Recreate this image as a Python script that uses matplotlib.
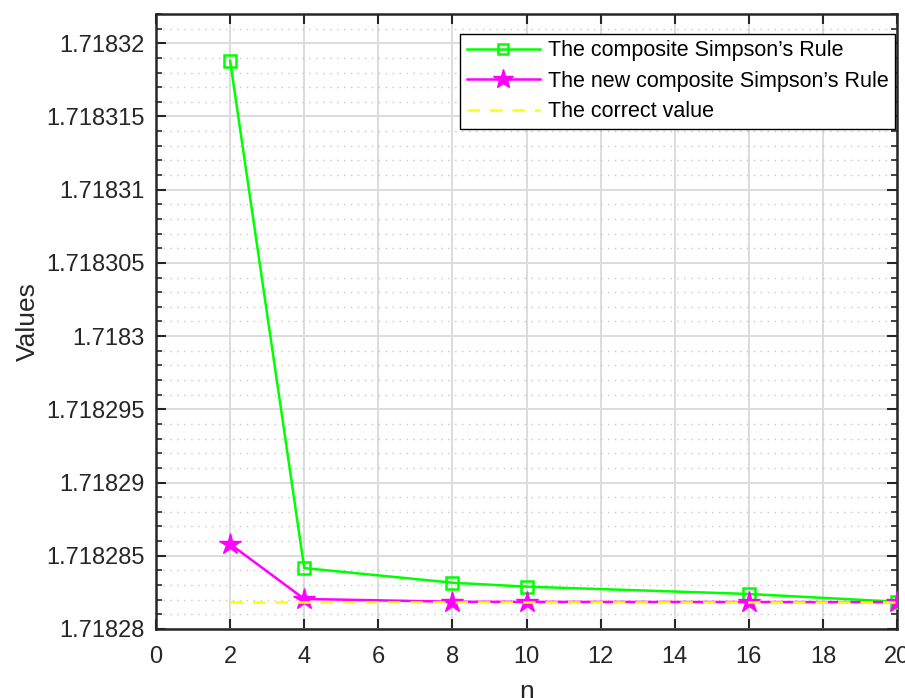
import matplotlib
matplotlib.use("Agg")
import matplotlib.pyplot as plt
from matplotlib.ticker import MultipleLocator, FuncFormatter

plt.rcParams['font.family'] = ['Liberation Sans', 'DejaVu Sans']

n = [2, 4, 8, 10, 16, 20]
simpson = [1.7183188, 1.71828416, 1.71828316, 1.71828289, 1.71828239, 1.71828186]
new_simpson = [1.7182858, 1.71828205, 1.71828186, 1.71828185, 1.71828184, 1.71828183]
correct = [1.71828183] * len(n)

fig = plt.figure(figsize=(9.05, 6.98), dpi=100)
ax = fig.add_axes([0.1724, 0.0989, 0.8188, 0.8811])

ax.plot(n, simpson, color='#00ff00', lw=1.8, marker='s', ms=8.5,
        mfc='none', mec='#00ff00', mew=1.8, label='The composite Simpson\u2019s Rule', zorder=3)
ax.plot(n, new_simpson, color='#ff00ff', lw=1.8, marker='*', ms=16,
        mfc='#ff00ff', mec='#ff00ff', label='The new composite Simpson\u2019s Rule', zorder=4)
ax.plot(n, correct, color='#ffff00', lw=1.8, ls=(0, (5, 4)), label='The correct value', zorder=5)

ax.set_xlim(0, 20)
ax.set_ylim(1.71828, 1.718322)
ax.xaxis.set_major_locator(MultipleLocator(2))
ax.yaxis.set_major_locator(MultipleLocator(5e-6))
ax.yaxis.set_minor_locator(MultipleLocator(1e-6))

def yfmt(v, pos):
    return ('%.6f' % v).rstrip('0').rstrip('.')
ax.yaxis.set_major_formatter(FuncFormatter(yfmt))

ax.grid(which='major', color='#dcdcdc', lw=1.4, ls='-')
ax.grid(which='minor', axis='y', color='#c8c8c8', lw=1.0, ls=(0, (1, 4)))
ax.set_axisbelow(True)

ax.tick_params(which='both', direction='in', top=True, right=True, colors='#262626',
               labelsize=17, labelcolor='#262626')
ax.tick_params(which='major', length=7, width=1.5)
ax.tick_params(which='minor', length=4, width=1.2)
ax.tick_params(axis='x', which='minor', bottom=False, top=False)
ax.tick_params(axis='x', pad=12)
ax.tick_params(axis='y', pad=8)
for sp in ax.spines.values():
    sp.set_linewidth(1.8)
    sp.set_color('#262626')

ax.set_xlabel('n', fontsize=19, color='#262626', labelpad=9)
ax.set_ylabel('Values', fontsize=19, color='#262626', labelpad=5)

leg = ax.legend(loc='upper right', bbox_to_anchor=(0.997, 0.968), fontsize=15.5,
                frameon=True, fancybox=False, edgecolor='black', framealpha=1,
                handlelength=3.4, borderpad=0.3, labelspacing=0.45, handletextpad=0.35,
                borderaxespad=0, markerscale=0.9)
leg.get_frame().set_linewidth(1.0)
for t in leg.get_texts():
    t.set_color('black')

fig.savefig('out.png', dpi=100)
